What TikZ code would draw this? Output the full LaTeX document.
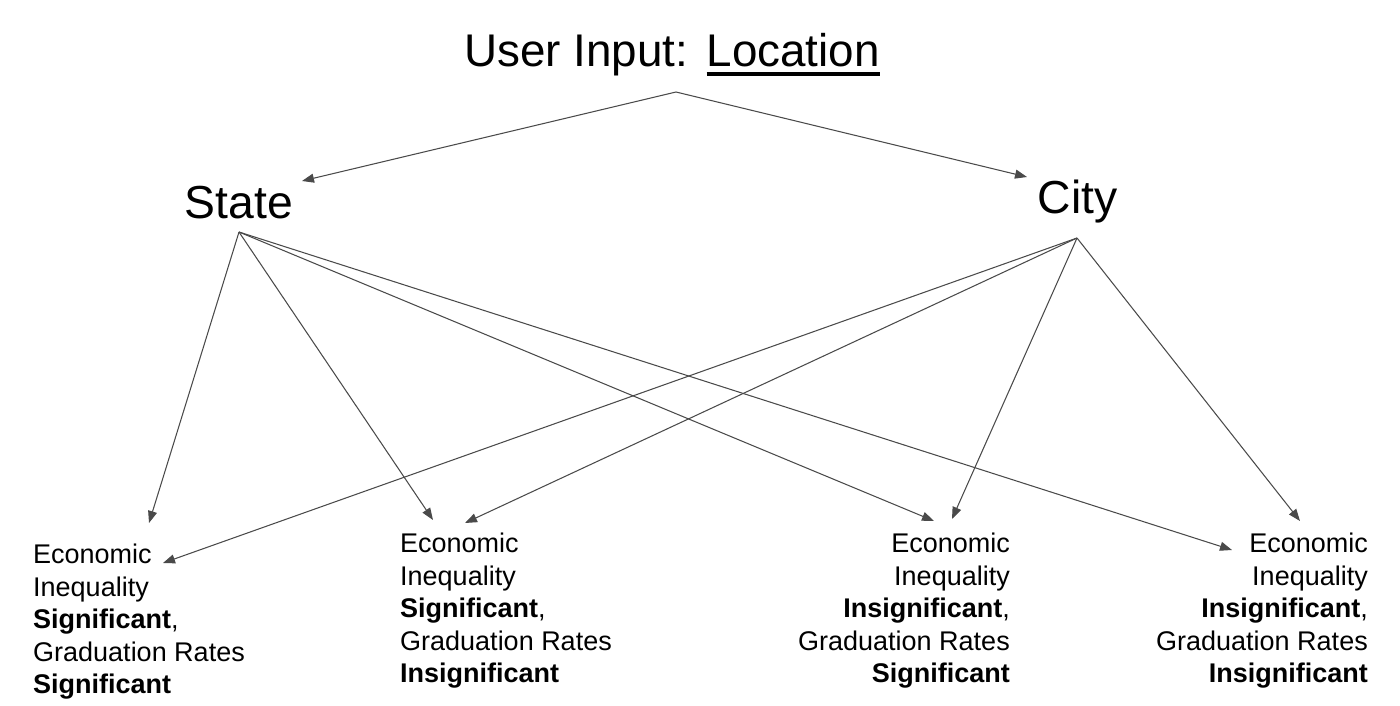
\documentclass[tikz,border=0pt]{standalone}
\usepackage{fontspec}
\setmainfont{Liberation Sans}
\usetikzlibrary{arrows.meta}
\definecolor{arrowgray}{HTML}{4A4A4A}
\newcommand\myul[1]{\setbox0\hbox{#1}\rlap{\rule[-9.5pt]{\wd0}{4pt}}\box0}
\begin{document}
\begin{tikzpicture}[x=1pt,y=-1pt,
  conn/.style={draw=arrowgray, line width=1.05pt, -{Triangle[length=12pt,width=9pt]}},
  big/.style={inner sep=0pt, font=\fontsize{46.3}{56}\selectfont},
  boxl/.style={inner sep=0pt, align=left, anchor=north west, font=\fontsize{27}{32.5}\selectfont},
  boxr/.style={inner sep=0pt, align=right, anchor=north east, font=\fontsize{27}{32.5}\selectfont}]
\useasboundingbox (0,0) rectangle (1400,706);
\fill[white] (0,0) rectangle (1400,706);

\node[big, anchor=base west, font=\fontsize{45.8}{56}\selectfont] (title) at (464,67) {User Input:\hspace{0.4em}\myul{Location}};
\node[big, anchor=base] (state) at (239,218) {State};
\node[big, anchor=base] (city) at (1077.5,213) {City};

\node[boxl] (b1) at (33,544) {Economic\\Inequality\\\textbf{Significant},\\Graduation Rates\\\textbf{Significant}};
\node[boxl] (b2) at (400,533) {Economic\\Inequality\\\textbf{Significant},\\Graduation Rates\\\textbf{Insignificant}};
\node[boxr] (b3) at (1010,533) {Economic\\Inequality\\\textbf{Insignificant},\\Graduation Rates\\\textbf{Significant}};
\node[boxr] (b4) at (1368,533) {Economic\\Inequality\\\textbf{Insignificant},\\Graduation Rates\\\textbf{Insignificant}};

% connector end points
\coordinate (tA) at (676,92);
\coordinate (sA) at (239,232);
\coordinate (cA) at (1077,238);
\coordinate (sIn) at (302,181);
\coordinate (cIn) at (1027,177);
\coordinate (b1s) at (149,523);
\coordinate (b1c) at (163,563);
\coordinate (b2s) at (433,520);
\coordinate (b2c) at (465,523);
\coordinate (b3s) at (934,521);
\coordinate (b3c) at (952,519);
\coordinate (b4s) at (1232,550);
\coordinate (b4c) at (1300,521);

\draw[conn] (tA) -- (sIn);
\draw[conn] (tA) -- (cIn);
\draw[conn] (sA) -- (b1s);
\draw[conn] (sA) -- (b2s);
\draw[conn] (sA) -- (b3s);
\draw[conn] (sA) -- (b4s);
\draw[conn] (cA) -- (b1c);
\draw[conn] (cA) -- (b2c);
\draw[conn] (cA) -- (b3c);
\draw[conn] (cA) -- (b4c);
\end{tikzpicture}
\end{document}
